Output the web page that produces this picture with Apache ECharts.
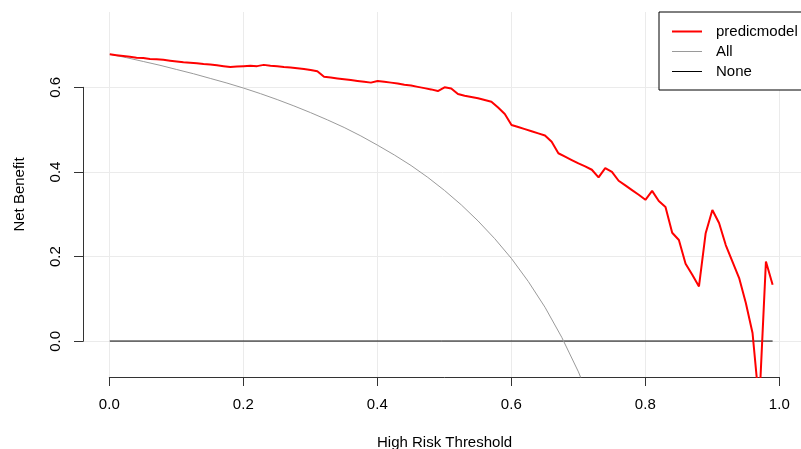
<!DOCTYPE html>
<html>
<head>
	<meta charset="UTF-8">
	<title>decision curve</title>
	<script src="https://cdn.jsdelivr.net/npm/echarts@6/dist/echarts.min.js"></script>
	<style>
		html, body { margin: 0; padding: 0; background: #fff; }
		#chart { width: 801px; height: 449px; }
	</style>
</head>
<body>
<div id="chart"></div>
<script type="text/javascript">

	// predicmodel 净获益 (阈值 0 ~ 0.99)
	var thresholds = [0.00,0.01,0.02,0.03,0.04,0.05,0.06,0.07,0.08,0.09,
		0.10,0.11,0.12,0.13,0.14,0.15,0.16,0.17,0.18,0.19,
		0.20,0.21,0.22,0.23,0.24,0.25,0.26,0.27,0.28,0.29,
		0.30,0.31,0.32,0.33,0.34,0.35,0.36,0.37,0.38,0.39,
		0.40,0.41,0.42,0.43,0.44,0.45,0.46,0.47,0.48,0.49,
		0.50,0.51,0.52,0.53,0.54,0.55,0.56,0.57,0.58,0.59,
		0.60,0.61,0.62,0.63,0.64,0.65,0.66,0.67,0.68,0.69,
		0.70,0.71,0.72,0.73,0.74,0.75,0.76,0.77,0.78,0.79,
		0.80,0.81,0.82,0.83,0.84,0.85,0.86,0.87,0.88,0.89,
		0.90,0.91,0.92,0.93,0.94,0.95,0.96,0.97,0.98,0.99];
	var modelNB = [0.678,0.676,0.674,0.672,0.670,0.669,0.667,0.666,0.665,0.663,
		0.661,0.659,0.658,0.657,0.655,0.654,0.652,0.650,0.648,0.649,
		0.650,0.651,0.650,0.653,0.651,0.650,0.648,0.647,0.645,0.643,
		0.641,0.638,0.625,0.623,0.621,0.619,0.617,0.615,0.613,0.611,
		0.615,0.613,0.611,0.609,0.606,0.604,0.601,0.598,0.595,0.591,
		0.600,0.597,0.584,0.580,0.577,0.574,0.570,0.566,0.552,0.537,
		0.511,0.506,0.501,0.496,0.491,0.486,0.471,0.444,0.436,0.428,
		0.420,0.413,0.405,0.387,0.409,0.400,0.379,0.368,0.357,0.346,
		0.334,0.355,0.331,0.317,0.256,0.239,0.183,0.157,0.129,0.255,
		0.310,0.279,0.227,0.188,0.149,0.090,0.019,-0.150,0.188,0.133];

	// All (全部干预)
	var allThresholds = [0,0.025,0.05,0.075,0.1,0.125,0.15,0.175,0.2,0.225,0.25,0.275,0.3,0.325,
		0.35,0.375,0.4,0.425,0.45,0.475,0.5,0.525,0.55,0.575,0.6,0.625,0.65,0.675,0.7,0.725,0.75];
	var allNB = [0.678,0.670,0.661,0.652,0.642,0.632,0.621,0.610,0.598,0.585,0.571,0.556,0.540,0.523,
		0.505,0.485,0.463,0.440,0.415,0.387,0.356,0.322,0.284,0.242,0.195,0.141,0.080,0.009,-0.073,-0.171,-0.288];

	// None
	var noneThresholds = [0, 0.99];
	var noneNB = [0, 0];

	var xTicks = [0, 0.2, 0.4, 0.6, 0.8, 1.0];
	var yTicks = [0, 0.2, 0.4, 0.6];

	function zip(xs, ys) {
		var out = [];
		for (var i = 0; i < xs.length; i++) {
			out.push([xs[i], ys[i]]);
		}
		return out;
	}

	var font = "'Liberation Sans', Arial, Helvetica, sans-serif";
	var gridColor = '#ebebeb';
	var axisColor = '#333';

	var myChart = echarts.init(document.getElementById('chart'));
	var option = {
		animation: false,
		backgroundColor: '#fff',
		textStyle: { fontFamily: font },
		grid: [
			// 0: 绘图区 (R 风格, 两边各扩 4%)
			{ left: 83, right: -5.1, top: 12, bottom: 72, outerBoundsMode: 'none', containLabel: false },
			// 1: x 轴 0 ~ 1
			{ left: 109.3, right: 21.7, top: 12, bottom: 72, outerBoundsMode: 'none', containLabel: false },
			// 2: y 轴 0 ~ 0.6
			{ left: 83, right: -5.1, top: 87.3, bottom: 107.7, outerBoundsMode: 'none', containLabel: false }
		],
		legend: {
			left: 659,
			top: 12,
			orient: 'vertical',
			itemWidth: 30,
			itemHeight: 14,
			itemGap: 5,
			padding: [12, 60, 11, 13],
			borderColor: '#000',
			borderWidth: 1,
			backgroundColor: '#fff',
			itemStyle: { borderWidth: 0 },
			textStyle: { fontFamily: font, fontSize: 15, color: '#000', padding: [0, 0, 0, 9] },
			data: [
				{ name: 'predicmodel', icon: 'path://M0,0 L30,0 L30,2 L0,2 Z' },
				{ name: 'All', icon: 'path://M0,0 L30,0 L30,1 L0,1 Z' },
				{ name: 'None', icon: 'path://M0,0 L30,0 L30,1 L0,1 Z' }
			]
		},
		xAxis: [
			{
				gridIndex: 0, type: 'value', min: -0.04, max: 1.04,
				axisLine: { show: false, onZero: false }, axisTick: { show: false },
				axisLabel: { show: false }, splitLine: { show: false },
				name: 'High Risk Threshold', nameLocation: 'middle', nameGap: 58,
				nameTextStyle: { fontFamily: font, fontSize: 15, color: '#000' }
			},
			{
				gridIndex: 1, type: 'value', min: 0, max: 1, interval: 0.2,
				axisLine: { show: true, onZero: false, lineStyle: { color: axisColor, width: 1 } },
				axisTick: { show: true, length: 9, lineStyle: { color: axisColor } },
				axisLabel: {
					margin: 20, fontSize: 15, color: '#000', fontFamily: font,
					formatter: function (v) { return v.toFixed(1); }
				},
				splitLine: { show: true, lineStyle: { color: gridColor, width: 1 } }
			},
			{ gridIndex: 2, type: 'value', min: 0, max: 1, show: false }
		],
		yAxis: [
			{
				gridIndex: 0, type: 'value', min: -0.085, max: 0.778,
				axisLine: { show: false, onZero: false }, axisTick: { show: false },
				axisLabel: { show: false }, splitLine: { show: false },
				name: 'Net Benefit', nameLocation: 'middle', nameGap: 56,
				nameTextStyle: { fontFamily: font, fontSize: 15, color: '#000' }
			},
			{ gridIndex: 1, type: 'value', min: 0, max: 1, show: false },
			{
				gridIndex: 2, type: 'value', min: 0, max: 0.6, interval: 0.2,
				axisLine: { show: true, onZero: false, lineStyle: { color: axisColor, width: 1 } },
				axisTick: { show: true, length: 9, lineStyle: { color: axisColor } },
				axisLabel: {
					rotate: 90, margin: 20, fontSize: 15, color: '#000', fontFamily: font,
					formatter: function (v) { return v.toFixed(1); }
				},
				splitLine: { show: true, lineStyle: { color: gridColor, width: 1 } }
			}
		],
		series: [
			{
				name: 'predicmodel', type: 'line', xAxisIndex: 0, yAxisIndex: 0,
				data: zip(thresholds, modelNB), showSymbol: false, symbol: 'none', z: 5,
				lineStyle: { color: '#ff0000', width: 2 }, itemStyle: { color: '#ff0000', borderWidth: 0 }
			},
			{
				name: 'All', type: 'line', xAxisIndex: 0, yAxisIndex: 0,
				data: zip(allThresholds, allNB), showSymbol: false, symbol: 'none', z: 4,
				lineStyle: { color: '#9a9a9a', width: 1 }, itemStyle: { color: '#9a9a9a', borderWidth: 0 }
			},
			{
				name: 'None', type: 'line', xAxisIndex: 0, yAxisIndex: 0,
				data: zip(noneThresholds, noneNB), showSymbol: false, symbol: 'none', z: 3,
				lineStyle: { color: '#000', width: 1 }, itemStyle: { color: '#000', borderWidth: 0 }
			}
		]
	};
	myChart.setOption(option);

</script>
</body>
</html>
